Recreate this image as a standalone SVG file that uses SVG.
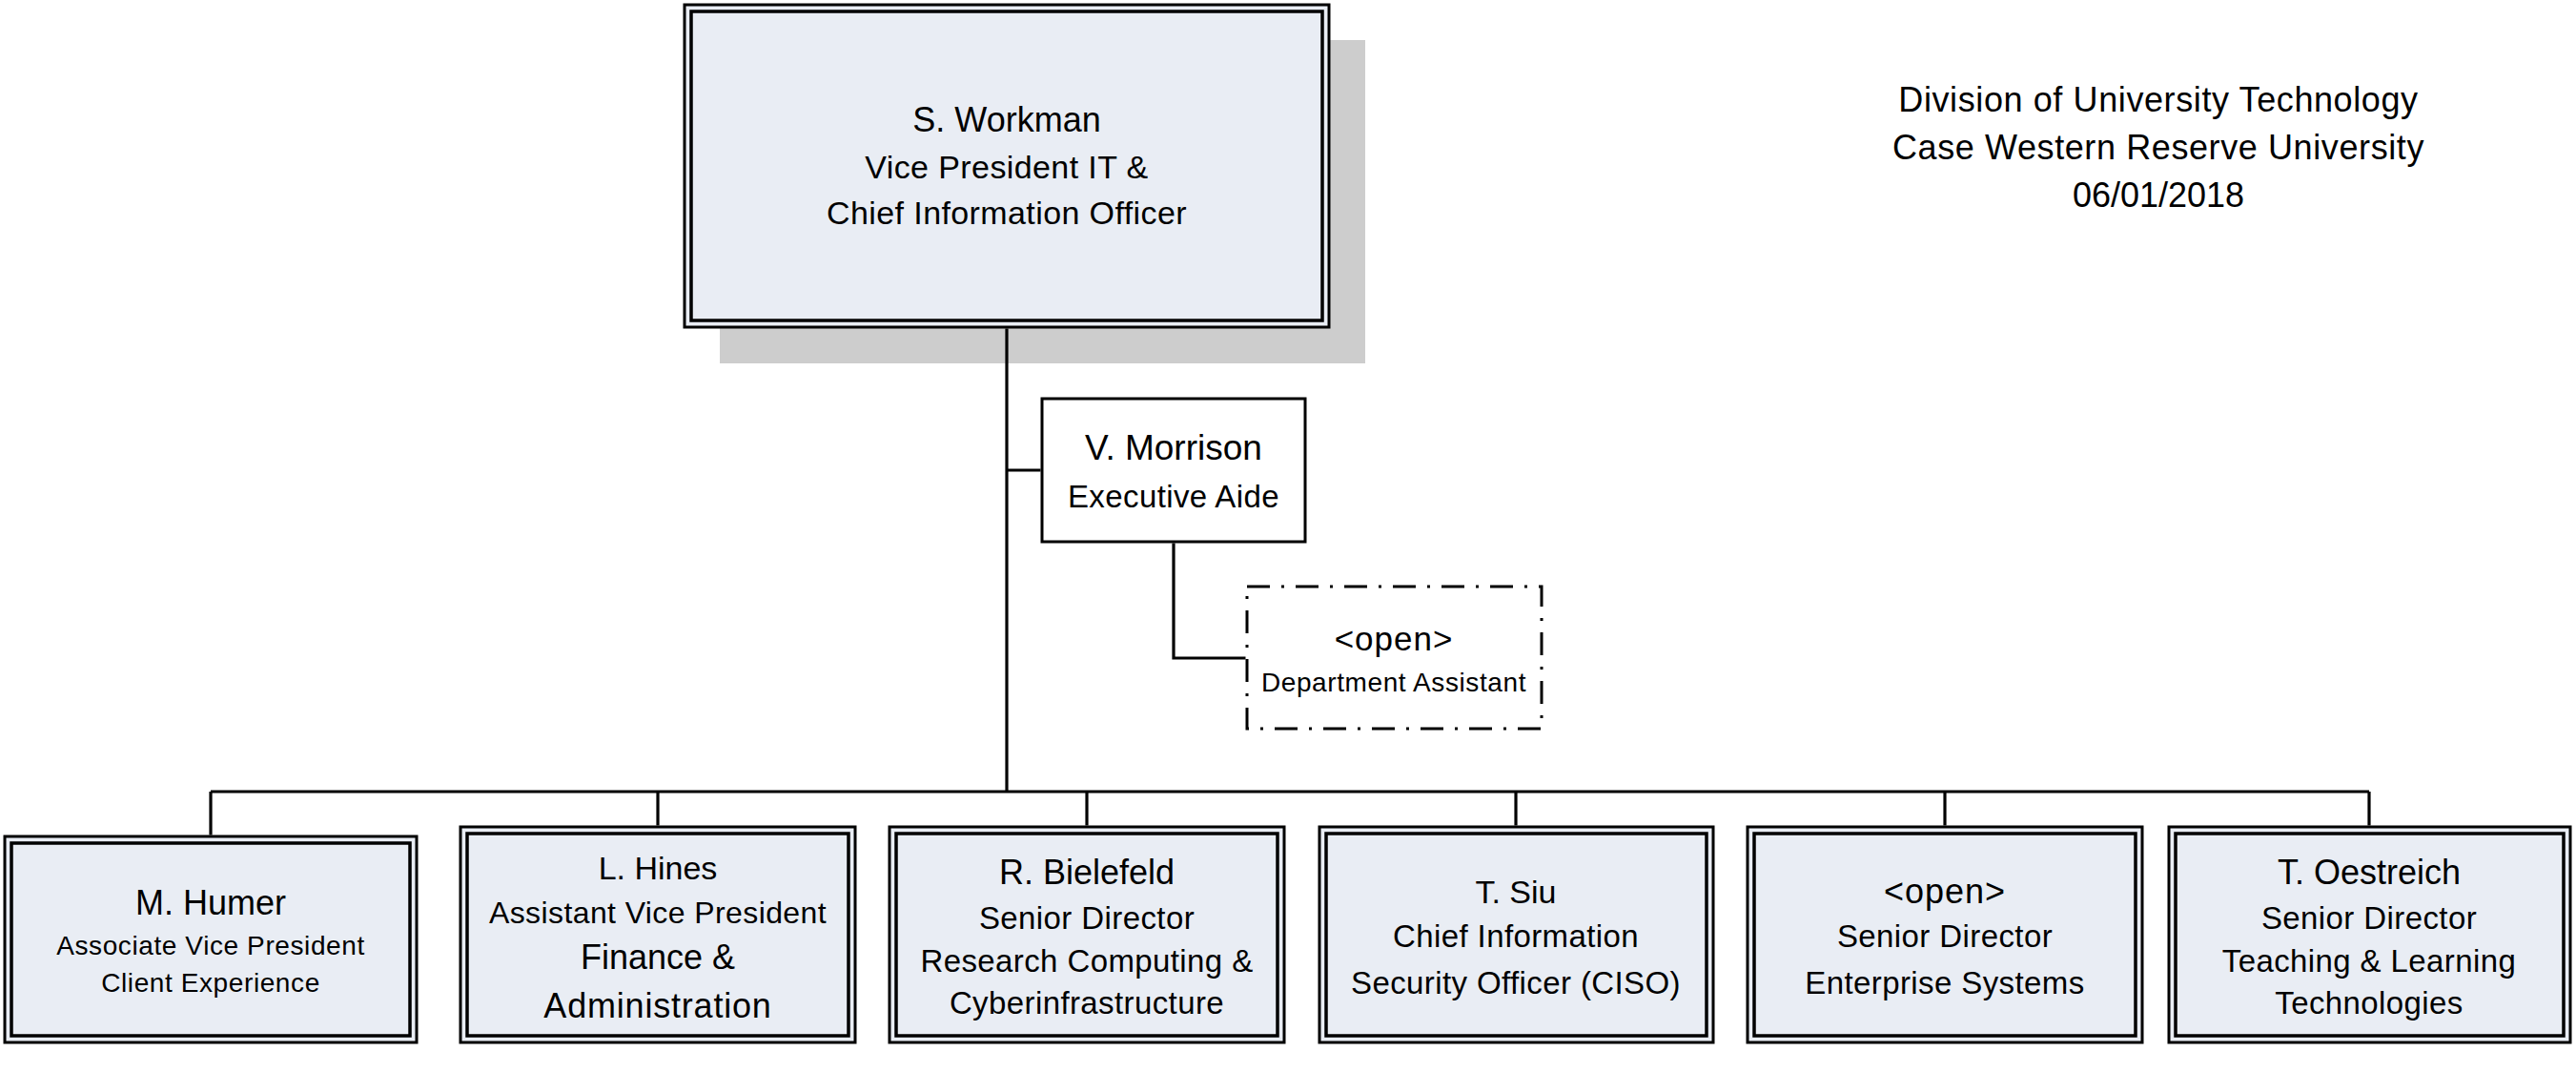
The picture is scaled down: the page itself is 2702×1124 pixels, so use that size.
<svg xmlns="http://www.w3.org/2000/svg" width="2702" height="1124" viewBox="0 0 2702 1124">
<style>
.box{fill:#e9edf4;stroke:#000;stroke-width:3}
.inner{fill:none;stroke:#000;stroke-width:3.5}
.plain{fill:#fff;stroke:#000;stroke-width:3}
.dash{fill:#fff;stroke:#000;stroke-width:3;stroke-dasharray:24 12 3 12}
.shadow{fill:#cdcdcd}
#connectors path{fill:none;stroke:#000;stroke-width:3.2}
text{font-family:"Liberation Sans",Arial,sans-serif;fill:#000;text-anchor:middle}
.n{font-size:36px}
.s{font-size:33px;letter-spacing:0.4px}
.sm{font-size:28px;letter-spacing:0.6px}
</style>
<rect width="2702" height="1124" fill="#fff"/>
<g id="header">
<text x="2264" y="117" class="n" style="letter-spacing:0.6px">Division of University Technology</text>
<text x="2264" y="167" class="n" style="letter-spacing:0.6px">Case Western Reserve University</text>
<text x="2264" y="217" class="n">06/01/2018</text>
</g>
<g id="node-workman">
<rect class="shadow" x="755" y="42" width="677" height="339"/>
<rect class="box" x="718" y="5" width="676" height="338"/>
<rect class="inner" x="725" y="12" width="662" height="324"/>
<text x="1056" y="138" class="n">S. Workman</text>
<text x="1056" y="187" class="s" style="font-size:34px">Vice President IT &amp;</text>
<text x="1056" y="235" class="s" style="font-size:34px">Chief Information Officer</text>
</g>
<g id="node-morrison">
<rect class="plain" x="1093" y="418" width="276" height="150"/>
<text x="1231" y="482" class="n" style="font-size:37px">V. Morrison</text>
<text x="1231" y="532" class="s">Executive Aide</text>
</g>
<g id="node-dept-assistant">
<rect class="dash" x="1308" y="615" width="309" height="149"/>
<text x="1462" y="682" class="n" style="font-size:35px;letter-spacing:1px">&lt;open&gt;</text>
<text x="1462" y="725" class="sm">Department Assistant</text>
</g>
<g id="node-humer">
<rect class="box" x="5" y="877" width="432" height="216"/>
<rect class="inner" x="12" y="884" width="418" height="202"/>
<text x="221" y="959" class="n">M. Humer</text>
<text x="221" y="1001" class="sm">Associate Vice President</text>
<text x="221" y="1040" class="sm">Client Experience</text>
</g>
<g id="node-hines">
<rect class="box" x="483" y="867" width="414" height="226"/>
<rect class="inner" x="490" y="874" width="400" height="212"/>
<text x="690" y="922" class="n" style="font-size:34px">L. Hines</text>
<text x="690" y="968" class="s" style="font-size:32px">Assistant Vice President</text>
<text x="690" y="1016" class="n">Finance &amp;</text>
<text x="690" y="1067" class="n" style="letter-spacing:0.8px">Administration</text>
</g>
<g id="node-bielefeld">
<rect class="box" x="933" y="867" width="414" height="226"/>
<rect class="inner" x="940" y="874" width="400" height="212"/>
<text x="1140" y="927" class="n">R. Bielefeld</text>
<text x="1140" y="974" class="s">Senior Director</text>
<text x="1140" y="1019" class="s">Research Computing &amp;</text>
<text x="1140" y="1063" class="s">Cyberinfrastructure</text>
</g>
<g id="node-siu">
<rect class="box" x="1384" y="867" width="413" height="226"/>
<rect class="inner" x="1391" y="874" width="399" height="212"/>
<text x="1590" y="947" class="n" style="font-size:34px">T. Siu</text>
<text x="1590" y="993" class="s">Chief Information</text>
<text x="1590" y="1042" class="s">Security Officer (CISO)</text>
</g>
<g id="node-enterprise">
<rect class="box" x="1833" y="867" width="414" height="226"/>
<rect class="inner" x="1840" y="874" width="400" height="212"/>
<text x="2040" y="947" class="n" style="letter-spacing:1px">&lt;open&gt;</text>
<text x="2040" y="993" class="s">Senior Director</text>
<text x="2040" y="1042" class="s">Enterprise Systems</text>
</g>
<g id="node-oestreich">
<rect class="box" x="2275" y="867" width="421" height="226"/>
<rect class="inner" x="2282" y="874" width="407" height="212"/>
<text x="2485" y="927" class="n">T. Oestreich</text>
<text x="2485" y="974" class="s">Senior Director</text>
<text x="2485" y="1019" class="s">Teaching &amp; Learning</text>
<text x="2485" y="1063" class="s">Technologies</text>
</g>
<g id="connectors">
<path d="M1056 344.5 V830"/>
<path d="M1056 493 H1091.5"/>
<path d="M1231 569.5 V690 H1306.5"/>
<path d="M221 830 H2485"/>
<path d="M221 830 V875.5"/>
<path d="M690 830 V865.5"/>
<path d="M1140 830 V865.5"/>
<path d="M1590 830 V865.5"/>
<path d="M2040 830 V865.5"/>
<path d="M2485 830 V865.5"/>
</g>
</svg>
